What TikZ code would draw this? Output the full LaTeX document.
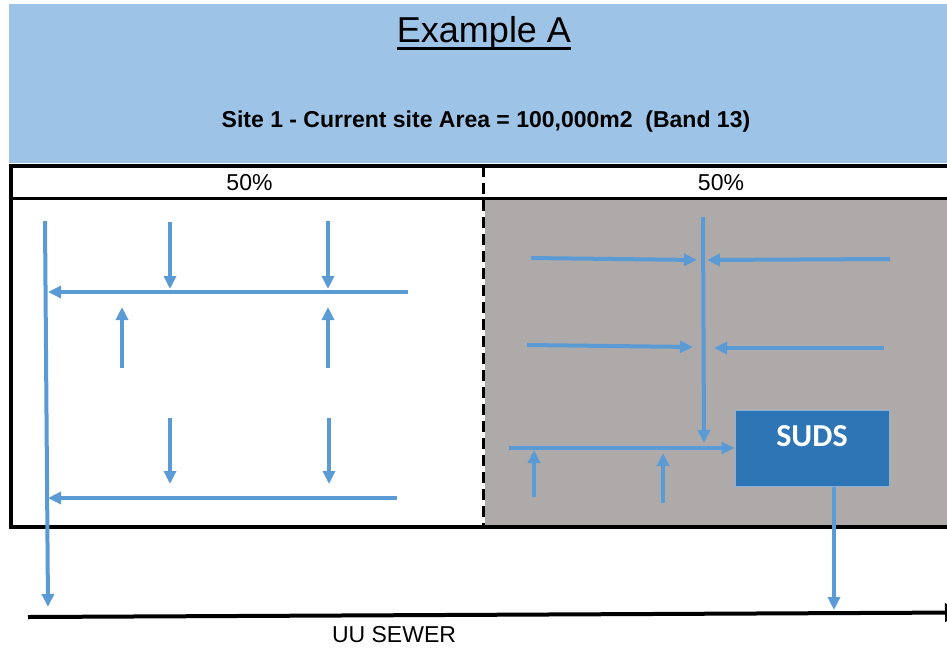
\documentclass[tikz,border=0pt]{standalone}
\usepackage{fontspec}
\setmainfont{Liberation Sans}
\newfontfamily\calibri{Carlito}
\usetikzlibrary{arrows.meta}

\definecolor{headblue}{RGB}{157,195,230}
\definecolor{flowblue}{RGB}{91,155,213}
\definecolor{pavegrey}{RGB}{174,170,170}
\definecolor{sudsblue}{RGB}{46,117,182}

\tikzset{
  flow/.style={draw=flowblue, line width=4pt, -{Triangle[length=13pt,width=12pt]}},
  tabletext/.style={inner sep=0pt, anchor=base, font=\fontsize{23}{26}\selectfont},
}

\begin{document}
\begin{tikzpicture}[x=1pt,y=-1pt]
\useasboundingbox (0,0) rectangle (947,648);
\clip (0,0) rectangle (947,648);

% heading band
\fill[headblue] (9,4) rectangle (947,163);
\node[anchor=base, inner sep=0pt, font=\fontsize{36}{40}\selectfont] (title) at (484,42) {Example A};
\draw[line width=2.5pt] ([yshift=-6.5pt]title.base west) -- ([yshift=-6.5pt]title.base east);
\node[anchor=base, inner sep=0pt, font=\bfseries\fontsize{23}{26}\selectfont] (site) at (486,127)
  {Site 1 - Current site Area = 100,000m2\ \ (Band 13)};

% site table, paved half in grey
\fill[pavegrey] (485,200) rectangle (960,526);
\draw[line width=4pt] (10.5,166) rectangle (965,526.5);
\draw[line width=3.5pt] (10.5,198.5) -- (965,198.5);
\draw[line width=3pt, dash pattern=on 11pt off 6pt] (483.5,166) -- (483.5,526);
\node[tabletext] (pctL) at (249.5,190) {50\%};
\node[tabletext] (pctR) at (721,190) {50\%};

% storage tank
\node[fill=sudsblue, draw=sudsblue!55!white, line width=1pt, minimum width=154pt,
  minimum height=76pt, inner sep=0pt] (suds) at (812,448) {};
\node[anchor=base, inner sep=0pt, text=white, font=\calibri\bfseries\fontsize{32}{36}\selectfont]
  (sudstext) at ([yshift=-37pt]suds.north) {SUDS};

% sewer
\coordinate (sewerL) at (28,617);
\coordinate (sewerR) at (962,612.5);
\draw[line width=4pt, -{Triangle[length=17pt,width=18pt]}] (sewerL) -- (sewerR);
\node[tabletext] (sewer) at (394,642) {UU SEWER};

% left half: straight to sewer
\draw[flow] (45,221) -- (48,607);
\draw[flow] (408,292) -- (48,292);
\draw[flow] (397,498) -- (48,498);
\draw[flow] (170,222) -- (170,289);
\draw[flow] (328,221) -- (328,289);
\draw[flow] (122,368) -- (122,307);
\draw[flow] (328,368) -- (328,307);
\draw[flow] (170,418) -- (170,484);
\draw[flow] (329,418) -- (329,484);

% right half: via SUDS
\draw[flow] (703,217) -- (704,443);
\draw[flow] (531,258) -- (697,260);
\draw[flow] (890,259) -- (707,260);
\draw[flow] (527,345) -- (693,347);
\draw[flow] (884,348) -- (714,348);
\draw[flow] (509,448) -- (suds.west);
\draw[flow] (534,497) -- (534,450);
\draw[flow] (663,503) -- (663,453);
\draw[flow] ([xshift=22pt]suds.south) -- (834,610);
\end{tikzpicture}
\end{document}
